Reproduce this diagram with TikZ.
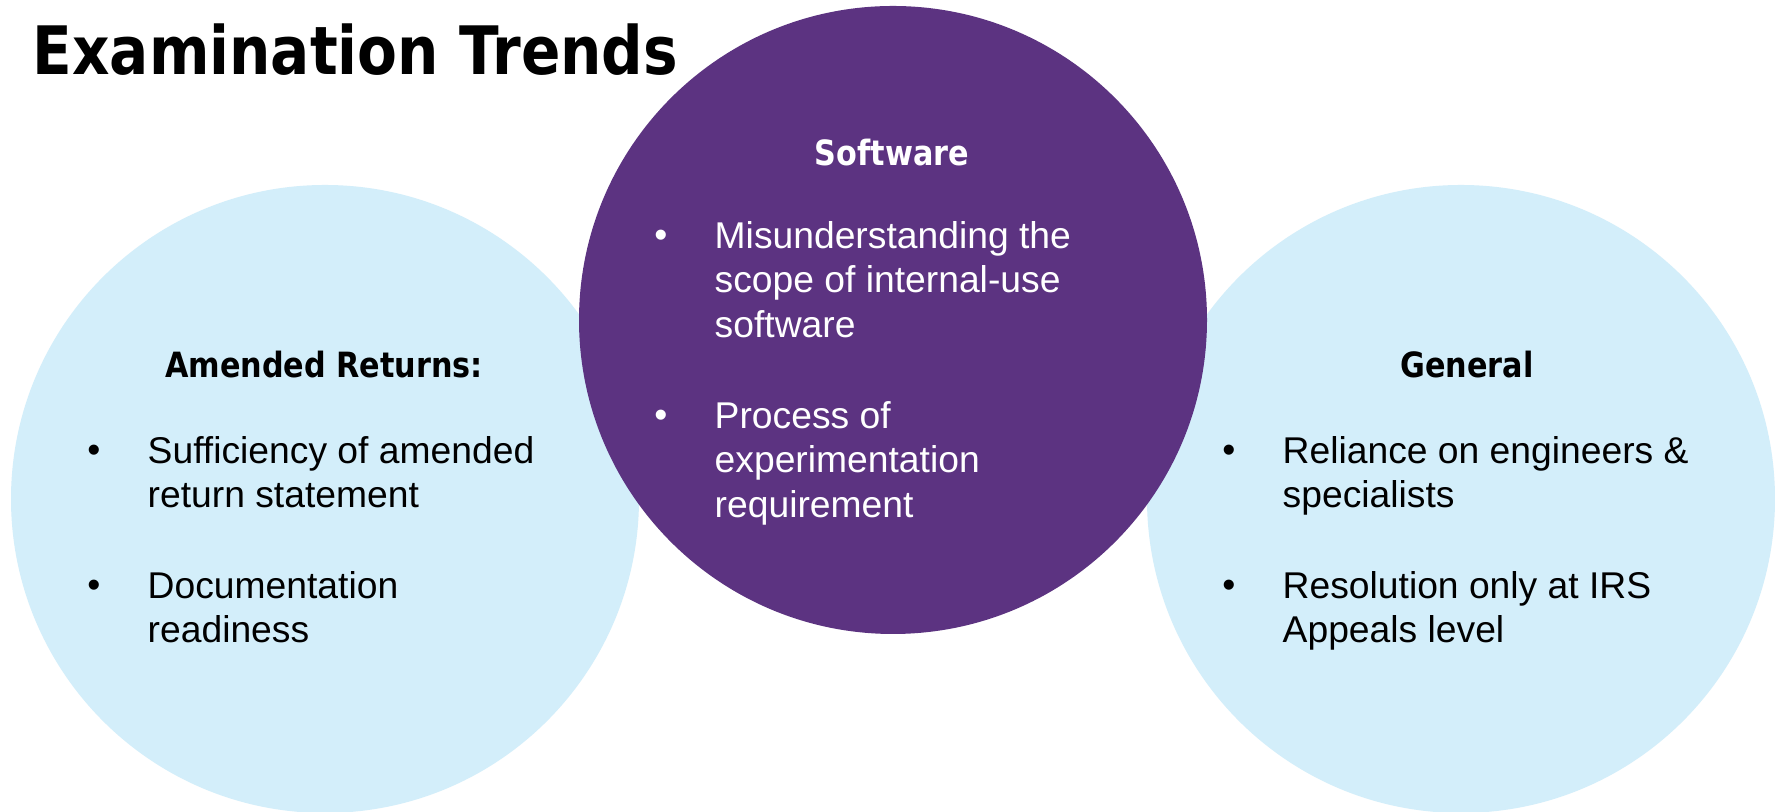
\documentclass[tikz,border=0pt]{standalone}
\usepackage{fontspec}
\setmainfont{Liberation Sans}
\newfontfamily\headfont[FakeStretch=0.87]{DejaVu Sans}
\usepackage{xcolor}
\usepackage{tikz}
\usetikzlibrary{positioning}

\definecolor{trendpurple}{HTML}{5C3381}
\definecolor{trendblue}{HTML}{D3EEFA}

\begin{document}
\begin{tikzpicture}[
    circ/.style={circle, minimum size=6.28cm, inner sep=0pt},
    head/.style={anchor=base, inner sep=0pt, font=\headfont\bfseries\fontsize{9.9}{11}\selectfont},
    itemtext/.style={anchor=base west, inner sep=0pt, align=left, font=\fontsize{10.6}{12.7}\selectfont},
    bulletmark/.style={anchor=base east, inner sep=0pt, font=\fontsize{10.6}{12.7}\selectfont}
]
    \path[fill=white] (0,0) rectangle (17.75,8.12);
    \useasboundingbox (0,0) rectangle (17.75,8.12);

    % circles
    \node[circ, fill=trendblue] (amended) at (3.25,3.13) {};
    \node[circ, fill=trendblue] (general) at (14.61,3.13) {};
    \node[circ, fill=trendpurple] (software) at (8.93,4.92) {};

    \node[anchor=base west, inner sep=0pt, font=\headfont\bfseries\fontsize{19}{23}\selectfont] (title) at (0.32,7.37) {Examination Trends};

    % headings
    \node[head] (amendedhead) at (3.24,4.34) {Amended Returns:};
    \node[head, text=white] (softwarehead) at (8.92,6.46) {Software};
    \node[head] (generalhead) at (14.67,4.34) {General};

    % items (placed by the base of their last line)
    \node[itemtext] (a1) at (1.47,3.043) {Sufficiency of amended\\return statement};
    \node[itemtext] (a2) at (1.47,1.693) {Documentation\\readiness};
    \node[itemtext, text=white] (s1) at (7.14,4.746) {Misunderstanding the\\scope of internal-use\\software};
    \node[itemtext, text=white] (s2) at (7.14,2.946) {Process of\\experimentation\\requirement};
    \node[itemtext] (g1) at (12.82,3.043) {Reliance on engineers \&\\specialists};
    \node[itemtext] (g2) at (12.82,1.693) {Resolution only at IRS\\Appeals level};

    % bullets on the first lines
    \foreach \n/\x/\y in {a1/1.01/3.49, a2/1.01/2.14, g1/12.36/3.49, g2/12.36/2.14}
        \node[bulletmark] (b\n) at (\x,\y) {•};
    \foreach \n/\x/\y in {s1/6.68/5.64, s2/6.68/3.84}
        \node[bulletmark, text=white] (b\n) at (\x,\y) {•};
\end{tikzpicture}
\end{document}
